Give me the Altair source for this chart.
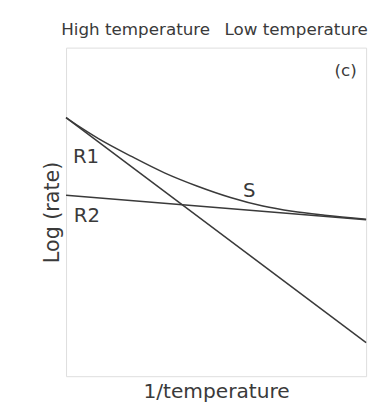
import altair as alt
import pandas as pd

# Lines (x: 1/temperature, y: log rate, arbitrary units 0-10)
r1_x = [0, 10]
r1_y = [7.87, 1.02]
r2_x = [0, 10]
r2_y = [5.51, 4.76]
s_x = [0, 0.43, 1.08, 2.20, 3.28, 4.36, 5.48, 6.56, 7.54, 8.62, 10]
s_y = [7.87, 7.60, 7.23, 6.68, 6.19, 5.79, 5.44, 5.18, 5.02, 4.90, 4.78]

# annotation texts and their anchor points in data units
top_labels = ["High temperature", "Low temperature"]
top_x = [-0.16, 5.28]
top_y = [10.37, 10.37]
curve_labels = ["R1", "R2", "S"]
curve_lx = [0.23, 0.26, 5.90]
curve_ly = [6.50, 4.70, 5.45]
panel_label = ["(c)"]
panel_x = [8.95]
panel_y = [9.13]

FONT = "DejaVu Sans"
INK = "#3a3a3a"

lines = pd.DataFrame({
    "x": r1_x + r2_x + s_x,
    "y": r1_y + r2_y + s_y,
    "series": ["R1"] * len(r1_x) + ["R2"] * len(r2_x) + ["S"] * len(s_x),
    "order": list(range(len(r1_x))) + list(range(len(r2_x))) + list(range(len(s_x))),
})

xs = alt.Scale(domain=[0, 10], nice=False, zero=False)
ys = alt.Scale(domain=[0, 10], nice=False, zero=False)

xenc = alt.X("x:Q", scale=xs, axis=alt.Axis(
    title="1/temperature", labels=False, ticks=False, domain=False, grid=False,
    titleFont=FONT, titleFontSize=20.5, titleFontWeight="normal", titleColor=INK,
    titlePadding=6))
yenc = alt.Y("y:Q", scale=ys, axis=alt.Axis(
    title="Log (rate)", labels=False, ticks=False, domain=False, grid=False,
    titleFont=FONT, titleFontSize=21, titleFontWeight="normal", titleColor=INK,
    titlePadding=4))

line_layer = alt.Chart(lines).mark_line(
    color=INK, strokeWidth=1.5, interpolate="monotone"
).encode(x=xenc, y=yenc, detail="series:N", order="order:Q")

def text_layer(texts, xv, yv, size):
    df = pd.DataFrame({"x": xv, "y": yv, "t": texts})
    return alt.Chart(df).mark_text(
        align="left", baseline="alphabetic", font=FONT, fontSize=size, color=INK
    ).encode(x=alt.X("x:Q", scale=xs), y=alt.Y("y:Q", scale=ys), text="t:N")

chart = alt.layer(
    line_layer,
    text_layer(top_labels, top_x, top_y, 17),
    text_layer(curve_labels, curve_lx, curve_ly, 20),
    text_layer(panel_label, panel_x, panel_y, 17),
).properties(
    width=305, height=334,
    autosize=alt.AutoSizeParams(type="none"),
    padding={"left": 59, "top": 37, "right": 6, "bottom": 26},
).configure_view(stroke=INK, strokeWidth=1.6).configure(background="white")

chart.save("out.html", embed_options={"renderer": "svg", "actions": False})
